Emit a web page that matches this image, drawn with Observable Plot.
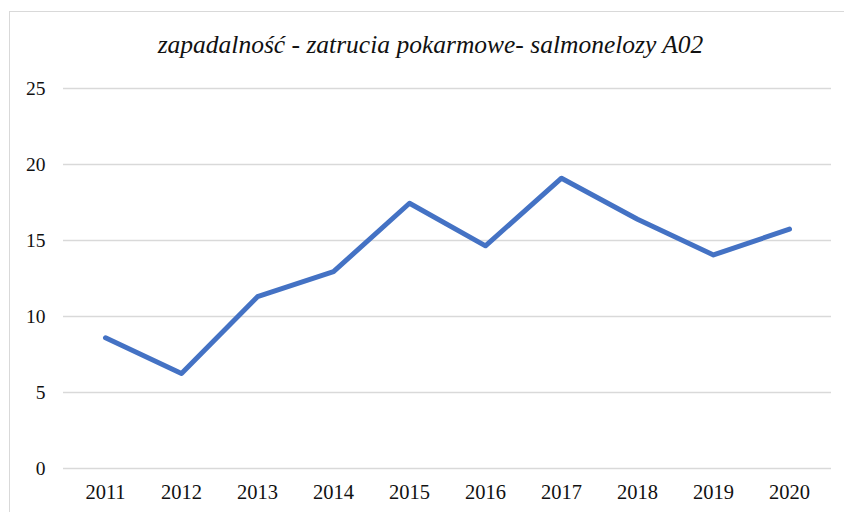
<!DOCTYPE html>
<html>
<head>
<meta charset="utf-8">
<script src="https://cdn.jsdelivr.net/npm/d3@7"></script>
<script src="https://cdn.jsdelivr.net/npm/@observablehq/plot@0.6"></script>
</head>
<body style="margin:0;padding:0;background:#fff;">
<div style="position:absolute;left:9px;top:11px;width:900px;height:600px;border:1.5px solid #d9d9d9;box-sizing:border-box;"></div>
<div id="title" style="position:absolute;left:9px;top:30px;width:843px;text-align:center;font-family:'Liberation Serif';font-style:italic;font-size:25.5px;color:#111;line-height:30px;">zapadalność - zatrucia pokarmowe- salmonelozy A02</div>
<div id="chart" style="position:absolute;left:0;top:70px;"></div>
<script>
const years = ["2011", "2012", "2013", "2014", "2015", "2016", "2017", "2018", "2019", "2020"];
const values = [8.6, 6.25, 11.3, 12.95, 17.45, 14.65, 19.1, 16.4, 14.05, 15.75];
const yTicks = [0, 5, 10, 15, 20, 25];

const data = years.map((year, i) => ({year, value: values[i]}));

const chart = Plot.plot({
  width: 844,
  height: 442,
  marginTop: 18,
  marginBottom: 44,
  marginLeft: 63,
  marginRight: 13,
  style: { fontFamily: "Liberation Serif", fontSize: "19px", color: "#111", background: "transparent" },
  x: { type: "point", domain: years, padding: 0.5, label: null },
  y: { domain: [0, 25], label: null },
  marks: [
    Plot.ruleY(yTicks, { stroke: "#d9d9d9", strokeWidth: 1.5 }),
    Plot.axisY(yTicks, { tickSize: 0, tickPadding: 18, fontSize: 19.5, label: null }),
    Plot.axisX(years, { tickSize: 0, tickPadding: 16, fontSize: 20.5, label: null }),
    Plot.line(data, { x: "year", y: "value", stroke: "#4472C4", strokeWidth: 5, strokeLinejoin: "round", strokeLinecap: "round" })
  ]
});
chart.querySelectorAll("text").forEach(t => t.setAttribute("font-family", "Liberation Serif"));
document.getElementById("chart").appendChild(chart);
</script>
</body>
</html>
